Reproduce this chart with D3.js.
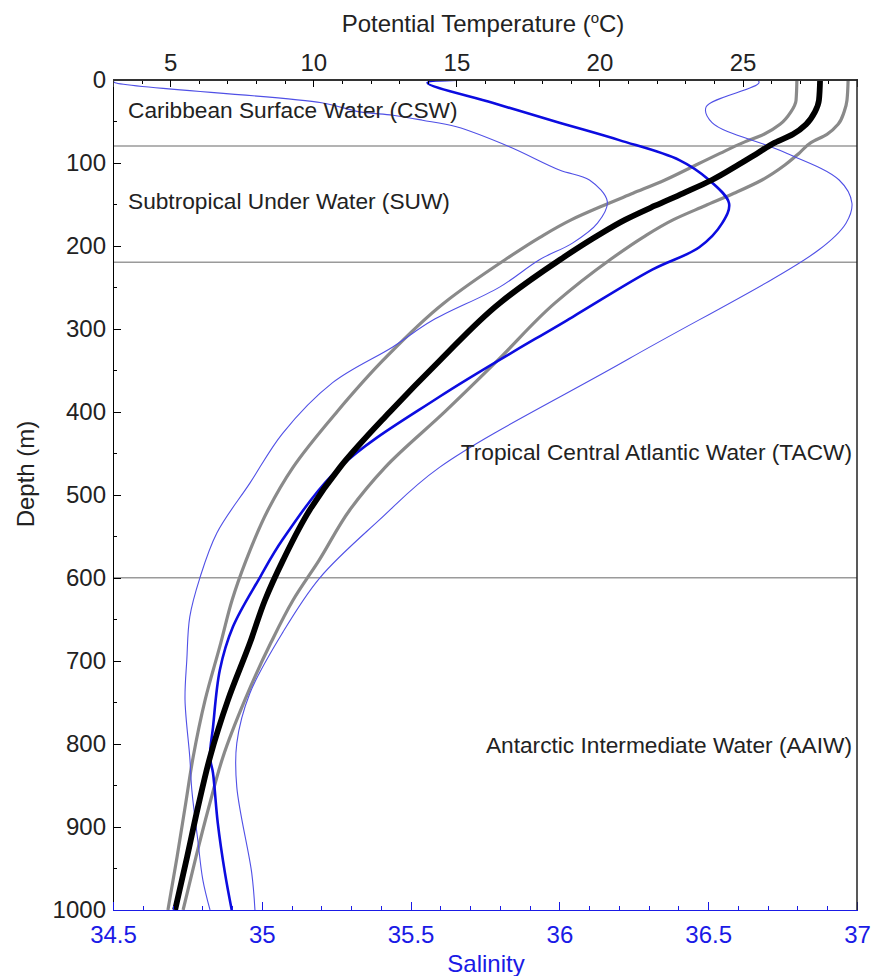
<!DOCTYPE html>
<html>
<head>
<meta charset="utf-8">
<script src="https://cdn.jsdelivr.net/npm/d3@7"></script>
<style>
  html, body { margin: 0; padding: 0; background: #fff; }
  svg { display: block; font-family: "Liberation Sans", Arial, sans-serif; }
  .axis path, .axis line { shape-rendering: crispEdges; }
</style>
</head>
<body>
<svg id="chart" width="876" height="976"></svg>
<script>
/* ───────────── DATA (depth m, value) ───────────── */
// potential temperature, mean profile (thick black)
const tempMean = [
  [0, 27.71], [25, 27.67], [39, 27.53], [54, 27.22], [66, 26.76], [76, 26.13],
  [89, 25.51], [103, 24.84], [121, 23.93], [137, 22.92], [152, 21.94],
  [169, 20.89], [190, 19.84], [217, 18.62], [269, 16.52], [338, 14.43],
  [400, 12.68], [467, 10.93], [518, 9.88], [579, 8.94], [627, 8.31],
  [678, 7.79], [747, 7.02], [816, 6.39], [876, 5.97], [936, 5.59], [1000, 5.17]
];
// mean - std (left grey)
const tempLow = [
  [0, 26.90], [25, 26.87], [39, 26.69], [54, 26.31], [66, 25.75], [76, 25.02],
  [89, 24.21], [103, 23.37], [121, 22.29], [137, 21.17], [152, 20.12],
  [169, 19.01], [190, 17.92], [217, 16.70], [269, 14.57], [338, 12.44],
  [400, 10.83], [467, 9.29], [518, 8.42], [579, 7.65], [627, 7.16],
  [678, 6.77], [747, 6.22], [816, 5.80], [876, 5.52], [936, 5.24], [1000, 4.92]
];
// mean + std (right grey)
const tempHigh = [
  [0, 28.69], [25, 28.65], [39, 28.55], [54, 28.34], [66, 27.95], [76, 27.39],
  [89, 26.97], [103, 26.48], [121, 25.68], [137, 24.70], [152, 23.69],
  [169, 22.57], [190, 21.52], [217, 20.37], [269, 18.45], [338, 16.45],
  [400, 14.60], [467, 12.51], [518, 11.28], [579, 10.20], [627, 9.29],
  [678, 8.52], [747, 7.61], [816, 6.84], [876, 6.35], [936, 5.90], [1000, 5.45]
];
// salinity, mean profile (thick blue)
const salMean = [
  [0, 35.755], [4, 35.557], [28, 35.775], [52, 36.0], [73, 36.201], [97, 36.403],
  [121, 36.503], [149, 36.570], [173, 36.547], [202, 36.470], [229, 36.312],
  [286, 36.044], [382, 35.597], [467, 35.262], [554, 35.070], [600, 34.993],
  [659, 34.903], [711, 34.859], [780, 34.836], [816, 34.826], [835, 34.836],
  [895, 34.852], [955, 34.876], [1000, 34.899]
];
// mean - std (thin blue, left)
const salLow = [
  [2, 34.5], [4, 34.507], [28, 35.201], [39, 35.329], [43, 35.440], [49, 35.540],
  [57, 35.654], [81, 35.832], [109, 36.0], [121, 36.101], [147, 36.161],
  [173, 36.128], [197, 36.044], [217, 35.933], [250, 35.799], [290, 35.574],
  [322, 35.440], [365, 35.238], [426, 35.070], [486, 34.960], [546, 34.849],
  [600, 34.792], [647, 34.758], [699, 34.748], [747, 34.742], [816, 34.758],
  [856, 34.765], [916, 34.785], [964, 34.802], [1000, 34.826]
];
// mean + std (thin blue, right)
const salHigh = [
  [0, 34.5], [3, 36.671], [33, 36.493], [52, 36.513], [85, 36.738], [121, 36.940],
  [149, 36.983], [173, 36.963], [205, 36.872], [336, 36.235], [467, 35.597],
  [530, 35.396], [600, 35.195], [666, 35.070], [739, 34.960], [799, 34.916],
  [852, 34.916], [955, 34.966], [1000, 34.977]
];

// water mass boundaries and labels
const boundaries = [80, 220, 600];
const waterMasses = [
  { name: "Caribbean Surface Water (CSW)",          depth: 46,  side: "left"  },
  { name: "Subtropical Under Water (SUW)",          depth: 156, side: "left"  },
  { name: "Tropical Central Atlantic Water (TACW)", depth: 458, side: "right" },
  { name: "Antarctic Intermediate Water (AAIW)",    depth: 811, side: "right" }
];

const tempTicks  = [5, 10, 15, 20, 25];
const salTicks   = [34.5, 35, 35.5, 36, 36.5, 37];
const depthTicks = d3.range(0, 1001, 100);

/* ───────────── LAYOUT ───────────── */
const svg = d3.select("#chart");
const L = 113, R = 857, T = 79.5, B = 910;
const BLUE = "#1a1ae6";
const fs = 24;

const y  = d3.scaleLinear().domain([0, 1000]).range([T, B]);
const xT = d3.scaleLinear().domain([3, 29]).range([L, R]);
const xS = d3.scaleLinear().domain([34.5, 37]).range([L, R]);

svg.append("defs").append("clipPath").attr("id", "plot")
   .append("rect").attr("x", L).attr("y", T).attr("width", R - L).attr("height", B - T);

const g = svg.append("g").attr("clip-path", "url(#plot)");

// boundaries
g.selectAll("line.bound").data(boundaries).join("line")
  .attr("class", "bound")
  .attr("x1", L).attr("x2", R)
  .attr("y1", d => y(d)).attr("y2", d => y(d))
  .attr("stroke", "#9a9a9a").attr("stroke-width", 1.6);

// labels
svg.selectAll("text.wm").data(waterMasses).join("text")
  .attr("class", "wm")
  .attr("x", d => d.side === "left" ? 128 : 852)
  .attr("y", d => y(d.depth))
  .attr("text-anchor", d => d.side === "left" ? "start" : "end")
  .attr("font-size", 22.7)
  .attr("fill", "#222")
  .text(d => d.name);

const lineT = d3.line().x(d => xT(d[1])).y(d => y(d[0])).curve(d3.curveMonotoneY);
const lineS = d3.line().x(d => xS(d[1])).y(d => y(d[0])).curve(d3.curveCatmullRom.alpha(0.5));

[tempLow, tempHigh].forEach(s =>
  g.append("path").datum(s).attr("d", lineT)
   .attr("fill", "none").attr("stroke", "#8a8a8a").attr("stroke-width", 3.2));

[salLow, salHigh].forEach(s =>
  g.append("path").datum(s).attr("d", lineS)
   .attr("fill", "none").attr("stroke", "#5050e6").attr("stroke-width", 1.1)
   .attr("stroke-linejoin", "round"));

g.append("path").datum(salMean).attr("d", lineS)
  .attr("fill", "none").attr("stroke", "#0c0ce0").attr("stroke-width", 2.6)
  .attr("stroke-linejoin", "round");

g.append("path").datum(tempMean).attr("d", lineT)
  .attr("fill", "none").attr("stroke", "#000").attr("stroke-width", 5.8);

/* ───────────── AXES ───────────── */
// left (depth)
svg.append("g").attr("class", "axis").attr("transform", `translate(${L},0)`)
  .call(d3.axisLeft(y).tickValues(d3.range(50, 1000, 100)).tickSize(-4).tickFormat(""))
  .call(a => a.select(".domain").remove());
svg.append("g").attr("class", "axis").attr("transform", `translate(${L},0)`)
  .call(d3.axisLeft(y).tickValues(depthTicks).tickSize(-8).tickPadding(7).tickFormat(d3.format("d")))
  .call(a => a.select(".domain").attr("stroke", "#000").attr("stroke-width", 1.5))
  .call(a => a.selectAll("text").attr("font-size", fs).attr("fill", "#222").attr("font-family", null));

// top (temperature)
svg.append("g").attr("class", "axis").attr("transform", `translate(0,${T})`)
  .call(d3.axisTop(xT).tickValues(d3.range(4, 29, 1).filter(v => v % 5)).tickSize(-4).tickFormat(""))
  .call(a => a.select(".domain").remove());
svg.append("g").attr("class", "axis").attr("transform", `translate(0,${T})`)
  .call(d3.axisTop(xT).tickValues(tempTicks).tickSize(-7).tickPadding(9))
  .call(a => a.select(".domain").attr("stroke", "#333").attr("stroke-width", 1.5))
  .call(a => a.selectAll("text").attr("font-size", fs).attr("fill", "#222").attr("font-family", null));

// bottom (salinity)
svg.append("g").attr("class", "axis").attr("transform", `translate(0,${B})`)
  .call(d3.axisBottom(xS).tickValues(d3.range(34.6, 37, 0.1).filter(v => Math.abs(v * 2 - Math.round(v * 2)) > 0.01)).tickSize(-4).tickFormat(""))
  .call(a => a.select(".domain").remove())
  .call(a => a.selectAll("line").attr("stroke", BLUE));
svg.append("g").attr("class", "axis").attr("transform", `translate(0,${B})`)
  .call(d3.axisBottom(xS).tickValues(salTicks).tickSize(-8).tickPadding(16).tickFormat(d3.format("~g")))
  .call(a => a.select(".domain").attr("stroke", BLUE).attr("stroke-width", 1.5))
  .call(a => a.selectAll("line").attr("stroke", BLUE))
  .call(a => a.selectAll("text").attr("font-size", fs).attr("fill", BLUE).attr("font-family", null));

// right frame
svg.append("line").attr("x1", R).attr("x2", R).attr("y1", T).attr("y2", B)
  .attr("stroke", "#222").attr("stroke-width", 1.5);

/* ───────────── TITLES ───────────── */
const tt = svg.append("text").attr("x", 483).attr("y", 32)
  .attr("text-anchor", "middle").attr("font-size", fs).attr("fill", "#222");
tt.append("tspan").text("Potential Temperature (");
tt.append("tspan").attr("font-size", 15).attr("dy", -9).text("o");
tt.append("tspan").attr("dy", 9).text("C)");

svg.append("text").attr("transform", `translate(34,474) rotate(-90)`)
  .attr("text-anchor", "middle").attr("font-size", fs).attr("fill", "#222")
  .text("Depth (m)");

svg.append("text").attr("x", 486).attr("y", 972)
  .attr("text-anchor", "middle").attr("font-size", fs).attr("fill", BLUE)
  .text("Salinity");
</script>
</body>
</html>
